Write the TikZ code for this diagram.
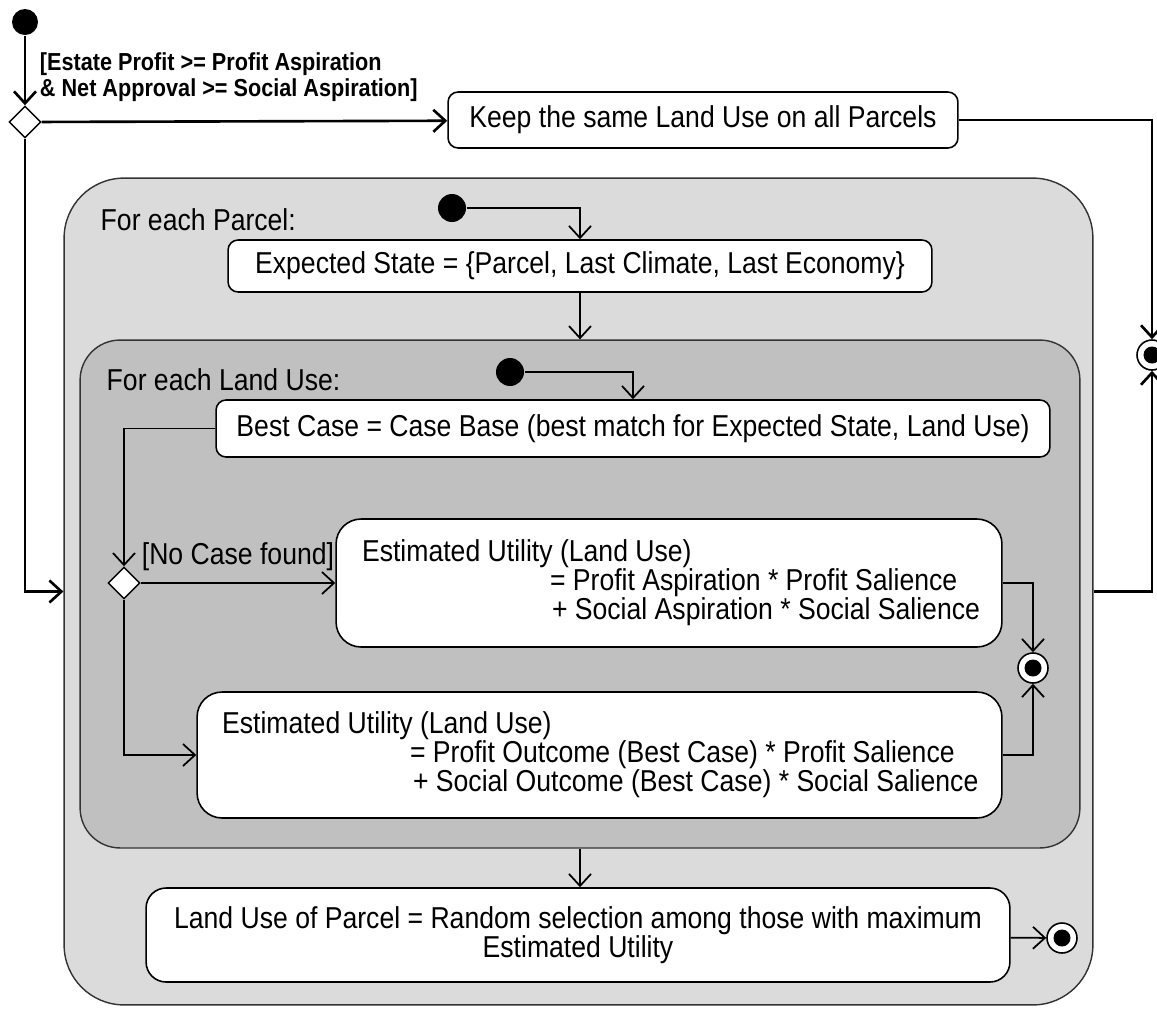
\documentclass[tikz,border=0pt]{standalone}
\usepackage{fontspec}
\setmainfont[FakeStretch=0.88]{Liberation Sans}
\usetikzlibrary{arrows.meta,shapes.geometric}
\definecolor{parcelgray}{RGB}{219,219,219}
\definecolor{landgray}{RGB}{192,192,192}

\begin{document}
\begin{tikzpicture}[x=0.02cm,y=-0.02cm,->,>={Straight Barb[length=2.4mm,width=4.4mm]},
                    line width=1pt,font=\fontsize{17.2}{16.5}\selectfont]
  \tikzstyle{region}=[draw=black!80,line width=0.8pt]
  \tikzstyle{action}=[draw,fill=white,rounded corners=0.2cm,line width=0.9pt]
  \tikzstyle{start}=[circle,fill=black,inner sep=0pt,minimum size=0.56cm]
  \tikzstyle{final}=[circle,draw,fill=white,inner sep=0pt,minimum size=0.6cm,line width=0.9pt,
                     path picture={\fill[black] (path picture bounding box.center) circle (0.17cm);}]
  \tikzstyle{choice}=[diamond,draw,fill=white,inner sep=0pt,minimum size=0.64cm,line width=0.8pt]
  \tikzstyle{guard}=[font=\bfseries\fontsize{14}{14.7}\selectfont,align=flush left,inner sep=0pt]
  \tikzstyle{top}=[line width=1.5pt]
  \useasboundingbox (0,0) rectangle (1157,1009);

  % nested regions
  \node[region,fill=parcelgray,rounded corners=1.2cm,minimum width=20.58cm,minimum height=16.54cm]
       (parcel) at (578.5,591.5) {};
  \node[region,fill=landgray,rounded corners=0.8cm,minimum width=20cm,minimum height=10.16cm]
       (landuse) at (580,594) {};

  \node[start,minimum size=0.52cm] (init) at (25,22) {};
  \node[choice] (dec1) at (25,122) {};
  \node[action,minimum width=10.2cm,minimum height=1.12cm] (keep) at (703,120)
       {Keep the same Land Use on all Parcels};
  \node[final] (fin1) at (1152,355) {};

  \node[anchor=west] (lparcel) at (94,220) {For each Parcel:};
  \node[start] (init2) at (452,208) {};
  \node[action,minimum width=14.08cm,minimum height=1.04cm] (expect) at (580,266)
       {Expected State = \{Parcel, Last Climate, Last Economy\}};

  \node[anchor=west] (lland) at (100,380) {For each Land Use:};
  \node[start] (init3) at (510,372) {};
  \node[action,minimum width=16.68cm,minimum height=1.14cm] (best) at (633,428.5)
       {Best Case = Case Base (best match for Expected State, Land Use)};
  \node[choice] (dec2) at (124,583) {};
  \node[action,rounded corners=0.5cm,align=flush left,text width=12.28cm,inner xsep=0.52cm,
        minimum height=2.56cm] (util1) at (669,583)
       {Estimated Utility (Land Use)\\
        \hspace*{3.76cm}\mbox{= Profit Aspiration * Profit Salience}\\
        \hspace*{3.8cm}\mbox{+ Social Aspiration * Social Salience}};
  \node[action,rounded corners=0.5cm,align=flush left,text width=15.1cm,inner xsep=0.5cm,
        minimum height=2.52cm] (util2) at (599.5,755)
       {Estimated Utility (Land Use)\\
        \hspace*{3.76cm}\mbox{= Profit Outcome (Best Case) * Profit Salience}\\
        \hspace*{3.82cm}\mbox{+ Social Outcome (Best Case) * Social Salience}};
  \node[final] (fin2) at (1033,668) {};

  \node[action,rounded corners=0.4cm,align=center,minimum width=17.28cm,minimum height=1.88cm]
       (select) at (578,935)
       {Land Use of Parcel = Random selection among those with maximum\\Estimated Utility};
  \node[final] (fin3) at (1062,938) {};

  % transitions
  \draw[top] (init) -- (dec1);
  \draw[top] (dec1) -- node[guard,pos=0,anchor=south west,xshift=-0.06cm,yshift=0.38cm]
       {[Estate Profit >= Profit Aspiration\\\& Net Approval >= Social Aspiration]} (keep);
  \draw[top] (keep) -| (fin1);
  \draw[top] (parcel) -| (fin1);
  \draw[top] (dec1) |- (parcel);

  \draw (init2) -| (expect);
  \draw (expect) -- (expect.south |- landuse.north);
  \draw (init3) -| (best);
  \draw (best) -| (dec2);
  \draw (dec2) -- node[above,yshift=3pt] {[No Case found]} (util1);
  \draw (dec2) |- (util2);
  \draw (util1) -| (fin2);
  \draw (util2) -| (fin2);
  \draw (landuse) -- (landuse.south |- select.north);
  \draw (select) -- (fin3);
\end{tikzpicture}
\end{document}
